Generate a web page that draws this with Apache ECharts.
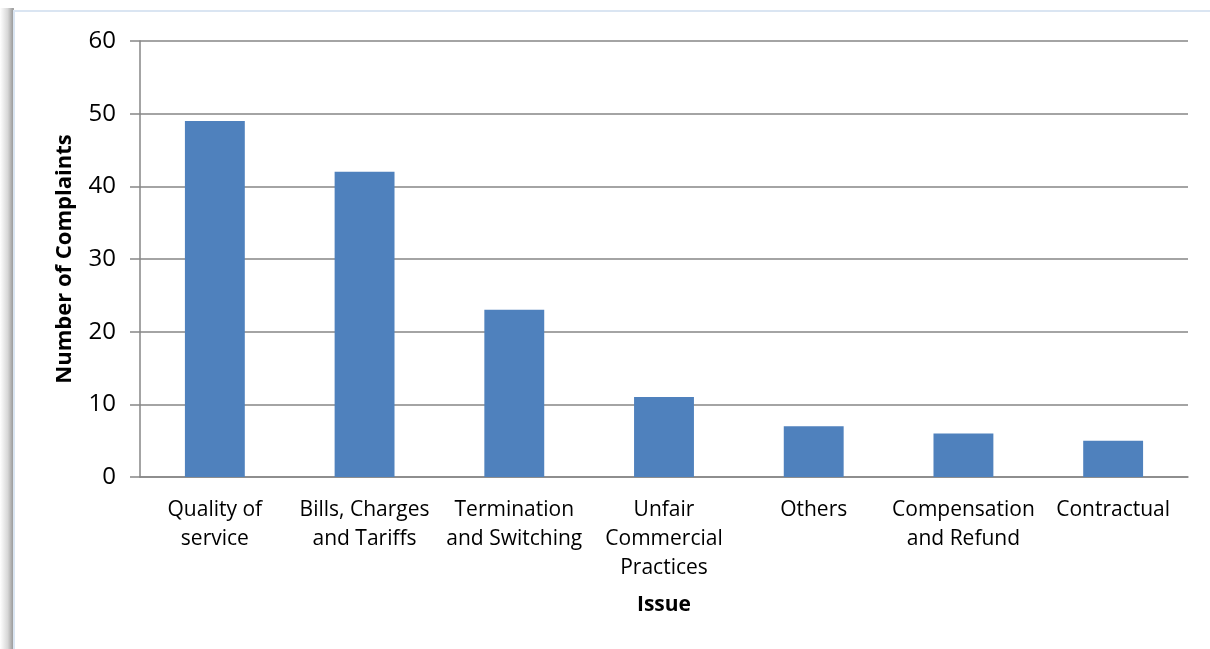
<!DOCTYPE html>
<html><head><meta charset="utf-8">
<script src="https://cdn.jsdelivr.net/npm/echarts@6/dist/echarts.min.js"></script>
<style>html,body{margin:0;padding:0;background:#fff}#c{width:1210px;height:649px}</style>
</head><body><div id="c"></div>
<script>
const categories = ['Quality of\nservice', 'Bills, Charges\nand Tariffs', 'Termination\nand Switching', 'Unfair\nCommercial\nPractices', 'Others', 'Compensation\nand Refund', 'Contractual'];
const complaints = [49, 42, 23, 11, 7, 6, 5];
const yTicks = { min: 0, max: 60, interval: 10 };
const xTitle = 'Issue';
const yTitle = 'Number of Complaints';

const font = 'Open Sans';
const chart = echarts.init(document.getElementById('c'), null, { renderer: 'canvas' });
chart.setOption({
  animation: false,
  backgroundColor: '#fff',
  graphic: [
    { type: 'rect', z: -10, shape: { x: 0, y: 8, width: 14, height: 700 },
      style: { fill: new echarts.graphic.LinearGradient(0, 0, 1, 0, [
        { offset: 0, color: 'rgba(255,255,255,1)' },
        { offset: 0.55, color: 'rgba(215,215,215,1)' },
        { offset: 0.9, color: 'rgba(160,160,160,1)' },
        { offset: 1, color: 'rgba(170,170,170,1)' }]) } },
    { type: 'rect', z: -9, shape: { x: 14, y: 11, width: 1300, height: 700 },
      style: { fill: '#fff', stroke: '#dae5f2', lineWidth: 2 } }
  ],
  grid: { left: 140, right: 22, top: 41, bottom: 172, containLabel: false },
  xAxis: {
    type: 'category', data: categories,
    name: xTitle, nameLocation: 'middle', nameGap: 118,
    nameTextStyle: { fontFamily: font, fontWeight: 'bold', fontSize: 21, color: '#000' },
    axisLine: { lineStyle: { color: '#868686', width: 1.5 } },
    axisTick: { show: false },
    axisLabel: { fontFamily: font, fontSize: 21, color: '#000', lineHeight: 29, margin: 19, interval: 0 }
  },
  yAxis: {
    type: 'value', min: yTicks.min, max: yTicks.max, interval: yTicks.interval,
    name: yTitle, nameLocation: 'middle', nameGap: 64, nameRotate: 90,
    nameTextStyle: { fontFamily: font, fontWeight: 'bold', fontSize: 22, color: '#000' },
    axisLine: { show: true, lineStyle: { color: '#868686', width: 1.5 } },
    axisTick: { show: true, length: 10, lineStyle: { color: '#868686', width: 1.5 } },
    splitLine: { lineStyle: { color: '#868686', width: 1.5 } },
    axisLabel: { fontFamily: font, fontSize: 24, color: '#000', margin: 24 }
  },
  series: [{
    type: 'bar', data: complaints, barWidth: '40%',
    itemStyle: { color: '#4f81bd' }
  }]
});
</script></body></html>
